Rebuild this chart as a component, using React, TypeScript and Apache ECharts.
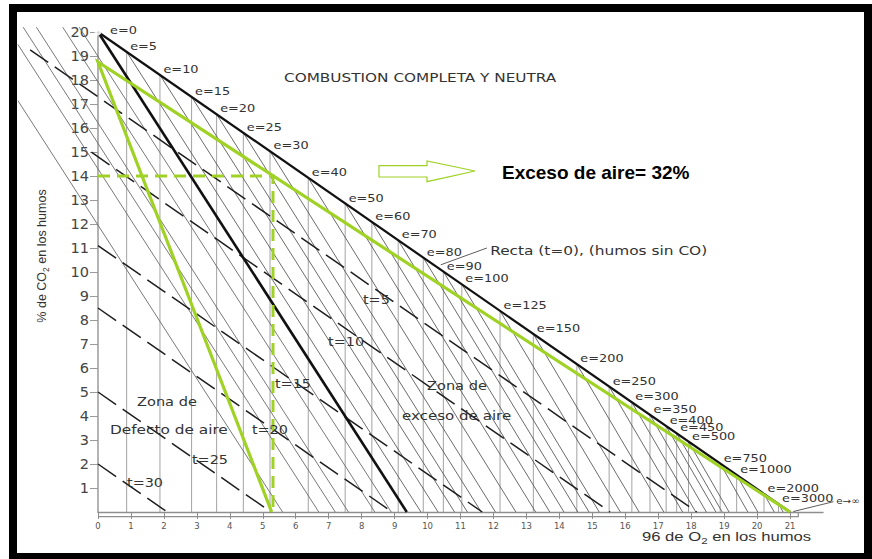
import React, { useEffect, useRef } from 'react';
import * as echarts from 'echarts';

// Excess-air points along the CO-free line (t = 0)
const eValues = [0, 5, 10, 15, 20, 25, 30, 40, 50, 60, 70, 80, 90, 100, 125, 150, 200, 250, 300, 350, 400, 450, 500, 750, 1000, 2000, 3000];
const eO2 = [0, 0.87, 1.88, 2.84, 3.6, 4.41, 5.22, 6.38, 7.5, 8.31, 9.11, 9.87, 10.48, 11.04, 12.2, 13.21, 14.53, 15.51, 16.2, 16.75, 17.24, 17.56, 17.92, 18.88, 19.38, 20.21, 20.65];
const eCO2 = [20, 19.17, 18.21, 17.3, 16.57, 15.8, 15.03, 13.92, 12.86, 12.09, 11.32, 10.6, 10.02, 9.49, 8.38, 7.42, 6.16, 5.23, 4.57, 4.05, 3.58, 3.28, 2.93, 2.02, 1.54, 0.75, 0.33];
// where each constant-e line reaches CO2 = 0
const eEndO2 = [9.37, 9.8, 10.32, 10.82, 11.21, 11.63, 12.06, 12.68, 13.28, 13.71, 14.14, 14.56, 14.9, 15.21, 15.85, 16.42, 17.17, 17.74, 18.14, 18.46, 18.75, 18.94, 19.15, 19.72, 20.02, 20.52, 20.79];

// air-defect lines (left of e = 0)
const defectTopO2 = [-2.43, -2.43, -2.27, -1.87, -1.07, -0.57];
const defectTopCO2 = [17.14, 19.48, 20.2, 20.2, 20.2, 20.2];
const defectEndO2 = [5.6, 6.7, 7.2, 7.6, 8.4, 8.9];

// constant-t lines (dashed), parallel to the CO-free line
const tNames = ['t=5', 't=10', 't=15', 't=20', 't=25', 't=30'];
const tStartO2 = [-2.06, -0.2, 0, 0, 0, 0];
const tStartCO2 = [19.26, 14.99, 11.1, 8.5, 5.0, 2.0];
const tEndO2 = [18.17, 15.54, 11.66, 8.93, 5.25, 2.1];
const tLabelO2 = [8.04, 6.98, 5.37, 4.67, 2.85, 0.88];
const tLabelCO2 = [8.83, 7.08, 5.33, 3.42, 2.17, 1.21];

// operating triangle and the reading (CO2 = 14 %)
const greenO2 = [5.27, 0, 21];
const greenCO2 = [0, 18.75, 0];
const readO2 = 5.31;
const readCO2 = 14;
const excessText = 'Exceso de aire= 32%';

const xTicks = [0, 1, 2, 3, 4, 5, 6, 7, 8, 9, 10, 11, 12, 13, 14, 15, 16, 17, 18, 19, 20, 21];
const yTicks = [1, 2, 3, 4, 5, 6, 7, 8, 9, 10, 11, 12, 13, 14, 15, 16, 17, 18, 19, 20];

const GREEN = '#9fd225';
const FONT = '"DejaVu Sans", sans-serif';
const ARIAL = '"Liberation Sans", Arial, sans-serif';

function seg(color: string, width: number, coords: number[][][], extra: any = {}) {
  return {
    type: 'lines',
    coordinateSystem: 'cartesian2d',
    polyline: true,
    clip: false,
    silent: true,
    lineStyle: { color, width, opacity: 1, ...(extra.lineStyle || {}) },
    symbol: extra.symbol || 'none',
    symbolSize: extra.symbolSize || 0,
    z: extra.z || 2,
    data: coords.map((c) => ({ coords: c })),
  };
}

function buildOption(): any {
  const verticals = eO2.slice(1).map((x, i) => [[x, eCO2[i + 1]], [x, 0]]);
  const eLines = eO2.slice(1).map((x, i) => [[x, eCO2[i + 1]], [eEndO2[i + 1], 0]]);
  const defect = defectEndO2.map((x, i) => [[defectTopO2[i], defectTopCO2[i]], [x, 0]]);
  const tLines = tEndO2.map((x, i) => [[tStartO2[i], tStartCO2[i]], [x, 0]]);

  return {
    animation: false,
    backgroundColor: '#ffffff',
    grid: { left: 98, right: 49, top: 32, bottom: 47 },
    xAxis: {
      type: 'value',
      min: 0,
      max: 22,
      interval: 1,
      axisLine: { lineStyle: { color: '#8e8e8e', width: 1.3 } },
      axisTick: { length: 7, lineStyle: { color: '#8e8e8e' }, customValues: xTicks },
      axisLabel: { customValues: xTicks, fontSize: 8.5, fontFamily: FONT, color: '#555', margin: 9 },
      splitLine: { show: false },
    },
    yAxis: {
      type: 'value',
      min: 0,
      max: 20,
      interval: 1,
      axisLine: { lineStyle: { color: '#9a9a9a', width: 1.5 } },
      axisTick: { length: 8, lineStyle: { color: '#9a9a9a' }, customValues: yTicks },
      axisLabel: { customValues: yTicks, fontSize: 14.5, fontFamily: FONT, color: '#444', margin: 9 },
      splitLine: { show: false },
    },
    series: [
      seg('#a3a3a3', 1, verticals, { z: 1 }),
      seg('#5a5a5a', 0.9, eLines, { z: 2 }),
      seg('#6a6a6a', 0.9, defect, { z: 2 }),
      seg('#1e1e1e', 1.5, tLines, { z: 3, lineStyle: { type: [22, 8] } }),
      // lower edge of the O2 scale strip
      seg('#8e8e8e', 1.2, [[[0, -0.19], [21.25, -0.19], [21.25, 0]]], { z: 3 }),
      // e = 0 (neutral combustion) and the CO-free line t = 0
      seg('#111', 2.6, [[[eO2[0], eCO2[0]], [eEndO2[0], 0]]], { z: 4 }),
      seg('#111', 2.2, [[[0, 20], [21, 0]]], { z: 4 }),
      // leader arrows
      seg('#333', 0.8, [[[11.8, 11.0], [10.4, 10.3]]], { z: 4, symbol: ['none', 'arrow'], symbolSize: 5 }),
      seg('#333', 0.8, [[[22.32, 0.43], [21.1, 0.02]]], { z: 4, symbol: ['none', 'arrow'], symbolSize: 5 }),
      // operating triangle
      seg(GREEN, 3.2, [greenO2.map((x, i) => [x, greenCO2[i]])], { z: 6 }),
      seg(GREEN, 3, [[[0, readCO2], [readO2, readCO2], [readO2, 0]]], { z: 6, lineStyle: { type: [12, 7] } }),
      {
        type: 'scatter',
        silent: true,
        symbol: 'emptyCircle',
        symbolSize: 5,
        itemStyle: { color: '#fff', borderColor: '#333', borderWidth: 1 },
        data: [[eO2[0], eCO2[0]]],
        z: 7,
      },
    ],
  };
}

function txt(x: number, y: number, text: string, font: string, opts: any = {}) {
  return {
    type: 'text',
    x,
    y,
    scaleX: opts.scaleX ?? 1,
    rotation: opts.rotation ?? 0,
    z: 100,
    silent: true,
    style: {
      text,
      font,
      fill: opts.fill || '#333',
      align: opts.align || 'left',
      verticalAlign: 'middle',
      ...(opts.rich ? { rich: opts.rich } : {}),
    },
  };
}

function buildGraphics(px: (x: number, y: number) => number[]) {
  const els: any[] = [];
  eValues.forEach((v, i) => {
    const p = px(eO2[i], eCO2[i]);
    const dx = i === 0 ? 12 : 3.5;
    const dy = i === 0 ? -2 : -5.5;
    els.push(txt(p[0] + dx, p[1] + dy, 'e=' + v, `11px ${FONT}`, { scaleX: 1.17 }));
  });
  const inf = px(22.4, 0.47);
  els.push(txt(inf[0], inf[1], 'e→∞', `9px ${FONT}`, { scaleX: 1.15 }));

  tNames.forEach((n, i) => {
    const p = px(tLabelO2[i], tLabelCO2[i]);
    els.push(txt(p[0], p[1], n, `12px ${FONT}`, { scaleX: 1.2 }));
  });

  const recta = px(11.9, 10.875);
  els.push(txt(recta[0], recta[1], 'Recta (t=0), (humos sin CO)', `12.5px ${FONT}`, { scaleX: 1.23 }));

  els.push(txt(284, 78, 'COMBUSTION COMPLETA Y NEUTRA', `11.5px ${FONT}`, { scaleX: 1.33 }));
  els.push(txt(137, 401, 'Zona de', `13px ${FONT}`, { scaleX: 1.12 }));
  els.push(txt(110, 429, 'Defecto de aire', `13px ${FONT}`, { scaleX: 1.18 }));
  els.push(txt(427, 385, 'Zona de', `13px ${FONT}`, { scaleX: 1.12 }));
  els.push(txt(402, 415, 'exceso de aire', `13px ${FONT}`, { scaleX: 1.16 }));

  els.push(txt(502, 172, excessText, `bold 19px ${ARIAL}`, { fill: '#000' }));

  // hollow arrow pointing at the result
  els.push({
    type: 'polygon',
    z: 100,
    silent: true,
    shape: {
      points: [[379, 165.7], [427, 165.7], [427, 161], [475, 171], [427, 181.7], [427, 177], [379, 177]],
    },
    style: { fill: '#fff', stroke: GREEN, lineWidth: 1.2 },
  });

  // axis titles with subscripts
  els.push(
    txt(642, 536, '{a|96 de O}{s|2}{a| en los humos}', `13px ${ARIAL}`, {
      scaleX: 1.28,
      rich: {
        a: { fontSize: 13, fontFamily: ARIAL, fill: '#333', lineHeight: 18, verticalAlign: 'middle' },
        s: { fontSize: 9, fontFamily: ARIAL, fill: '#333', lineHeight: 18, verticalAlign: 'bottom' },
      },
    })
  );
  els.push(
    txt(42, 256, '{a|% de CO}{s|2}{a| en los humos}', `12.5px ${ARIAL}`, {
      rotation: Math.PI / 2,
      align: 'center',
      rich: {
        a: { fontSize: 12.5, fontFamily: ARIAL, fill: '#333', lineHeight: 16, verticalAlign: 'middle' },
        s: { fontSize: 8.5, fontFamily: ARIAL, fill: '#333', lineHeight: 16, verticalAlign: 'bottom' },
      },
    })
  );
  return els;
}

export default function App() {
  const ref = useRef<HTMLDivElement>(null);
  useEffect(() => {
    if (!ref.current) return;
    const chart = echarts.init(ref.current, undefined, { renderer: 'svg' });
    chart.setOption(buildOption());
    const px = (x: number, y: number) => chart.convertToPixel({ gridIndex: 0 }, [x, y]) as number[];
    chart.setOption({ graphic: { elements: buildGraphics(px) } });
    return () => chart.dispose();
  }, []);
  return (
    <div style={{ position: 'fixed', left: 0, top: 0, width: 872, height: 559, background: '#fff', overflow: 'hidden' }}>
      <div ref={ref} style={{ position: 'absolute', left: 0, top: 0, width: 872, height: 559 }} />
      <div
        style={{
          position: 'absolute',
          left: 9,
          top: 4,
          width: 863,
          height: 555,
          boxSizing: 'border-box',
          borderStyle: 'solid',
          borderColor: '#000',
          borderWidth: '8px 8px 6px 8px',
          pointerEvents: 'none',
        }}
      />
    </div>
  );
}
